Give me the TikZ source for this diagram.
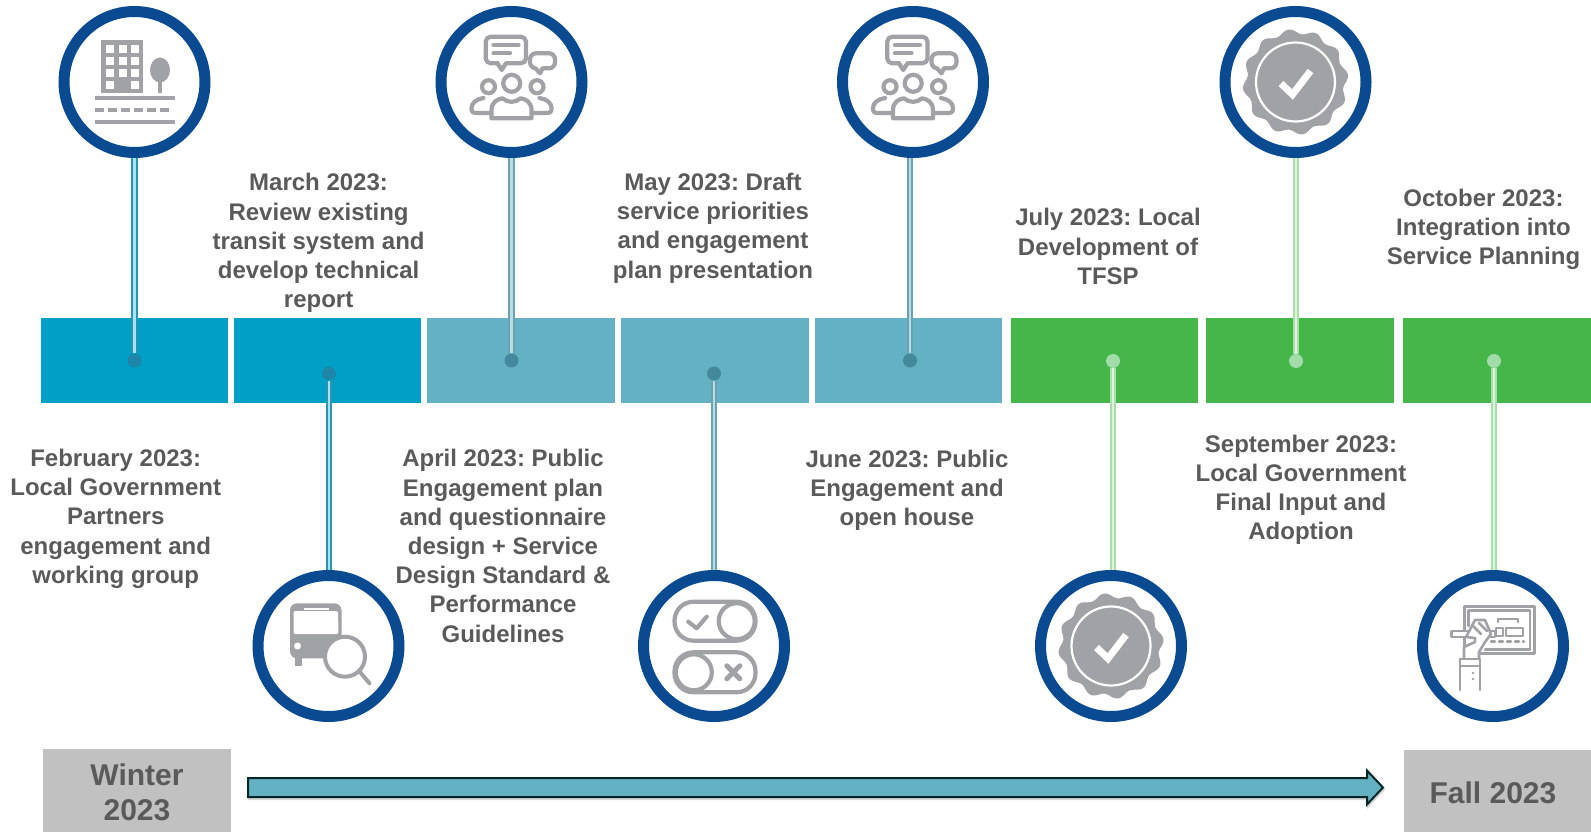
\documentclass[tikz,border=0pt]{standalone}
\usepackage{fontspec}
\setmainfont{Liberation Sans}
\definecolor{ringblue}{HTML}{0A4A91}
\definecolor{icongrey}{HTML}{A0A2A5}
\definecolor{txt}{HTML}{5A5A5A}
\definecolor{barblue}{HTML}{00A0C6}
\definecolor{barteal}{HTML}{64B1C4}
\definecolor{bargreen}{HTML}{45B649}
\definecolor{boxgrey}{HTML}{C1C1C1}
\definecolor{dotblue}{HTML}{1E86A8}
\definecolor{dotteal}{HTML}{43899B}
\definecolor{dotgreen}{HTML}{A2DCA8}
\tikzset{
  x=1pt,y=-1pt,
  ring/.style={circle,draw=ringblue,fill=white,line width=11pt,minimum size=141pt,inner sep=0pt},
  barbox/.style={rectangle,inner sep=0pt,minimum height=85pt,anchor=north west},
  dotb/.style={circle,inner sep=0pt,minimum size=14pt,fill=#1},
  stem/.style n args={2}{draw=#1,line width=2pt,double=#2,double distance=2.8pt},
  label/.style={font=\bfseries\fontsize{24}{29.2}\selectfont\frenchspacing,text=txt,align=center,inner sep=0pt},
  endbox/.style={rectangle,fill=boxgrey,inner sep=0pt,anchor=north west},
  endtxt/.style={font=\bfseries\fontsize{30}{35}\selectfont,text=txt,align=center,inner sep=0pt},
  ic/.style={draw=icongrey,line width=4.2pt,line cap=round,line join=round},
  icthin/.style={draw=icongrey,line width=2.6pt,line cap=round,line join=round},
  cityicon/.pic={
    \fill[icongrey] (-34,-42) rectangle (8,11);
    \foreach \cx in {-24.5,-12,0.2}{\foreach \cy in {-33,-20.7,-8.7}{
      \fill[white] (\cx-4,\cy-4) rectangle (\cx+4,\cy+4);}}
    \fill[white] (-28.5,-0.7) rectangle (-20.5,7.3);
    \fill[white] (-3.8,-0.7) rectangle (4.2,7.3);
    \fill[icongrey] (23.8,-8) rectangle (27.2,11);
    \fill[icongrey] (25.5,-12) ellipse [x radius=10,y radius=12.5];
    \fill[icongrey] (-40,14.5) rectangle (40,18.2);
    \fill[icongrey] (-40,38.5) rectangle (40,42.2);
    \foreach \dx in {-40,-27,-14,-1,12,25}{\fill[icongrey] (\dx,26.5) rectangle (\dx+9,30);}
  },
  peopleicon/.pic={
    \draw[ic,rounded corners=5pt] (-25.8,-45.3) rectangle (14.5,-18.7);
    \fill[white] (-13,-20.5) rectangle (-6,-17);
    \draw[ic] (-14,-18.7) -- (-9.8,-12) -- (-5.5,-18.7);
    \draw[ic] (-18,-37) -- (7,-37);
    \draw[ic] (-18,-28.7) -- (-1.5,-28.7);
    \draw[ic,rounded corners=6pt] (18.5,-28.7) rectangle (43.5,-13.7);
    \fill[white] (24,-15.5) rectangle (31,-12);
    \draw[ic] (24,-13.7) -- (28.5,-8.7) -- (31,-13.7);
    \draw[ic] (0.2,1.3) circle [radius=8.5];
    \draw[ic] (-23,4.7) circle [radius=6.5];
    \draw[ic] (25.5,4.7) circle [radius=6.5];
    \draw[ic] (-20,36.3) -- (-20,28) .. controls (-20,20) and (-14,17) .. (-9,16.3)
       .. controls (-4,21) and (4,21) .. (9,16.3) .. controls (14,17) and (20,20) .. (20,28)
       -- (20,36.3) -- cycle;
    \draw[ic] (-28,16) .. controls (-35,17) and (-40,21) .. (-40,26) -- (-40,28)
       .. controls (-40,30) and (-38,31) .. (-36,31) -- (-22,31);
    \draw[ic] (28,16) .. controls (35,17) and (40,21) .. (40,26) -- (40,28)
       .. controls (40,30) and (38,31) .. (36,31) -- (22,31);
  },
  badgeicon/.pic={
    \fill[icongrey] plot[domain=0:360,samples=181,smooth cycle]
      ({(50.5+2.4*cos(12*\x+90))*cos(\x)},{(50.5+2.4*cos(12*\x+90))*sin(\x)});
    \draw[white,line width=2.2pt] (0,0) circle [radius=39.5];
    \draw[white,line width=7pt,line join=miter] (-14.5,1.5) -- (-3,12.5) -- (15,-11);
  },
  busicon/.pic={
    \fill[icongrey] (-34,10) rectangle (-27,20);
    \fill[icongrey,rounded corners=7pt] (-38.5,12.3) -- (-38.5,-42.7) -- (13,-42.7) -- (13,12.3) -- cycle;
    \fill[white,rounded corners=2pt] (-35,-35) -- (9.5,-35) -- (10,-12) -- (-35,-12) -- cycle;
    \fill[icongrey] (-32,-39) rectangle (6,-35);
    \fill[white] (-25,-38.5) rectangle (0,-36);
    \fill[white] (-31,0) circle [radius=3.5];
    \draw[ic,line width=4pt,fill=white] (16.5,10.7) circle [radius=20];
    \draw[ic,line width=4pt] (31,25.5) -- (41,37.3);
  },
  toggleicon/.pic={
    \draw[ic,rounded corners=19pt] (-39.5,-44.3) rectangle (41.5,-5.3);
    \draw[ic,rounded corners=19pt] (-39.5,6.3) rectangle (41.5,46.3);
    \draw[ic] (22.7,-24.8) circle [radius=18];
    \draw[ic] (-20.2,26.3) circle [radius=18];
    \draw[ic] (-25.7,-24.3) -- (-17.3,-17.7) -- (-7.3,-29.3);
    \draw[ic,line width=5pt] (12.8,19.8) -- (25.8,32.8) (25.8,19.8) -- (12.8,32.8);
  },
  planicon/.pic={
    \draw[icthin] (-28.7,-39.3) rectangle (41.3,7.3);
    \draw[icthin] (-24.7,-35.3) -- (37,-35.3) -- (37,3.3) -- (-8,3.3);
    \draw[icthin] (-24.7,-35.3) -- (-24.7,-20);
    \draw[icthin] (5,-24) -- (5,-27) -- (25,-27) -- (25,-24);
    \draw[icthin] (3,-18) rectangle (10,-10);
    \draw[icthin] (13,-18) rectangle (30,-10);
    \draw[icthin,dash pattern=on 4pt off 4pt] (-2,-4.5) -- (31,-4.5);
    \draw[icthin,fill=white] (-41.3,-15) rectangle (2,-9);
    \draw[icthin,fill=white] (-29,13) -- (-29,1) -- (-18,-4) -- (-18,-8) -- (-27,-9)
       -- (-18,-26) -- (-8,-26) -- (-2,-12) -- (-8,-4) -- (-14,6) -- (-14,13);
    \draw[icthin] (-20,-20) -- (-12,-12) (-14,-23) -- (-6,-15);
    \draw[icthin,fill=white] (-33,13) rectangle (-13,20);
    \draw[icthin] (-33,20) -- (-33,44) (-13,20) -- (-13,44);
    \fill[icongrey] (-20,27) circle [radius=1.3] (-20,33) circle [radius=1.3];
  },
}
\begin{document}
\begin{tikzpicture}
\useasboundingbox (0,0) rectangle (1591,832);
% bars
\node[barbox,fill=barblue,minimum width=187pt] (b1) at (41,318) {};
\node[barbox,fill=barblue,minimum width=187pt] (b2) at (234,318) {};
\node[barbox,fill=barteal,minimum width=188pt] (b3) at (427,318) {};
\node[barbox,fill=barteal,minimum width=188pt] (b4) at (621,318) {};
\node[barbox,fill=barteal,minimum width=187pt] (b5) at (815,318) {};
\node[barbox,fill=bargreen,minimum width=187pt] (b6) at (1011,318) {};
\node[barbox,fill=bargreen,minimum width=188pt] (b7) at (1206,318) {};
\node[barbox,fill=bargreen,minimum width=188pt] (b8) at (1403,318) {};
% circles
\node[ring] (c1) at (134.5,82) {};
\node[ring] (c2) at (328.5,646) {};
\node[ring] (c3) at (511.5,82) {};
\node[ring] (c4) at (714,646) {};
\node[ring] (c5) at (913,82) {};
\node[ring] (c6) at (1111,646) {};
\node[ring] (c7) at (1295.5,82) {};
\node[ring] (c8) at (1493,646) {};
% dots
\node[dotb=dotblue] (d1) at (134.5,360.5) {};
\node[dotb=dotblue] (d2) at (329,373.5) {};
\node[dotb=dotteal] (d3) at (511.5,360.5) {};
\node[dotb=dotteal] (d4) at (714,373.5) {};
\node[dotb=dotteal] (d5) at (910,360.5) {};
\node[dotb=dotgreen] (d6) at (1113,361) {};
\node[dotb=dotgreen] (d7) at (1296,361) {};
\node[dotb=dotgreen] (d8) at (1494,361) {};
% stems
\path[stem={barblue!65!gray}{cyan!35!white}] (c1.south -| d1) -- (d1);
\path[stem={barblue!65!gray}{cyan!35!white}] (d2) -- (c2.north -| d2);
\path[stem={barteal!70!gray}{barteal!45!white}] (c3.south -| d3) -- (d3);
\path[stem={barteal!70!gray}{barteal!45!white}] (d4) -- (c4.north -| d4);
\path[stem={barteal!70!gray}{barteal!45!white}] (c5.south -| d5) -- (d5);
\path[stem={bargreen!45!white}{bargreen!18!white}] (d6) -- (c6.north -| d6);
\path[stem={bargreen!45!white}{bargreen!18!white}] (c7.south -| d7) -- (d7);
\path[stem={bargreen!45!white}{bargreen!18!white}] (d8) -- (c8.north -| d8);
% icons
\pic at (c1) {cityicon};
\pic at (c3) {peopleicon};
\pic at (c5) {peopleicon};
\pic at (c7) {badgeicon};
\pic at (c2) {busicon};
\pic at (c4) {toggleicon};
\pic at (c6) {badgeicon};
\pic at (c8) {planicon};
% labels
\node[label] (t1) at (115.7,518.7) {February 2023:\\Local Government\\Partners\\engagement and\\working group};
\node[label] (t2) at (318.6,243) {March 2023:\\Review existing\\transit system and\\develop technical\\report};
\node[label] (t3) at (503,546) {April 2023: Public\\Engagement plan\\and questionnaire\\design + Service\\Design Standard \&\\Performance\\Guidelines};
\node[label] (t4) at (713,228) {May 2023: Draft\\service priorities\\and engagement\\plan presentation};
\node[label] (t5) at (907,490.3) {June 2023: Public\\Engagement and\\open house};
\node[label] (t6) at (1108,246.5) {July 2023: Local\\Development of\\TFSP};
\node[label] (t7) at (1301,489.7) {September 2023:\\Local Government\\Final Input and\\Adoption};
\node[label] (t8) at (1483.5,229.5) {October 2023:\\Integration into\\Service Planning};
% end boxes
\node[endbox,minimum width=188pt,minimum height=83pt] (w) at (43,749) {};
\node[endbox,minimum width=187pt,minimum height=82pt] (f) at (1404,750) {};
\node[endtxt] (wt) at (137,792) {Winter\\2023};
\node[endtxt] (ft) at (1493,793) {Fall 2023};
% arrow
\coordinate (as) at (248,787.5);
\coordinate (at) at (1383,787.5);
\draw[draw=black!45,line width=2pt,opacity=.35,transform canvas={xshift=1pt,yshift=-2pt}]
  ([yshift=9.5pt]as) -- ([xshift=-16pt,yshift=9.5pt]at) -- ([xshift=-16pt,yshift=17pt]at) -- (at)
  -- ([xshift=-16pt,yshift=-17pt]at) -- ([xshift=-16pt,yshift=-9.5pt]at) -- ([yshift=-9.5pt]as) -- cycle;
\draw[draw=black!70!teal,fill=barteal,line width=2pt,line join=miter]
  ([yshift=9.5pt]as) -- ([xshift=-16pt,yshift=9.5pt]at) -- ([xshift=-16pt,yshift=17pt]at) -- (at)
  -- ([xshift=-16pt,yshift=-17pt]at) -- ([xshift=-16pt,yshift=-9.5pt]at) -- ([yshift=-9.5pt]as) -- cycle;
\end{tikzpicture}
\end{document}
